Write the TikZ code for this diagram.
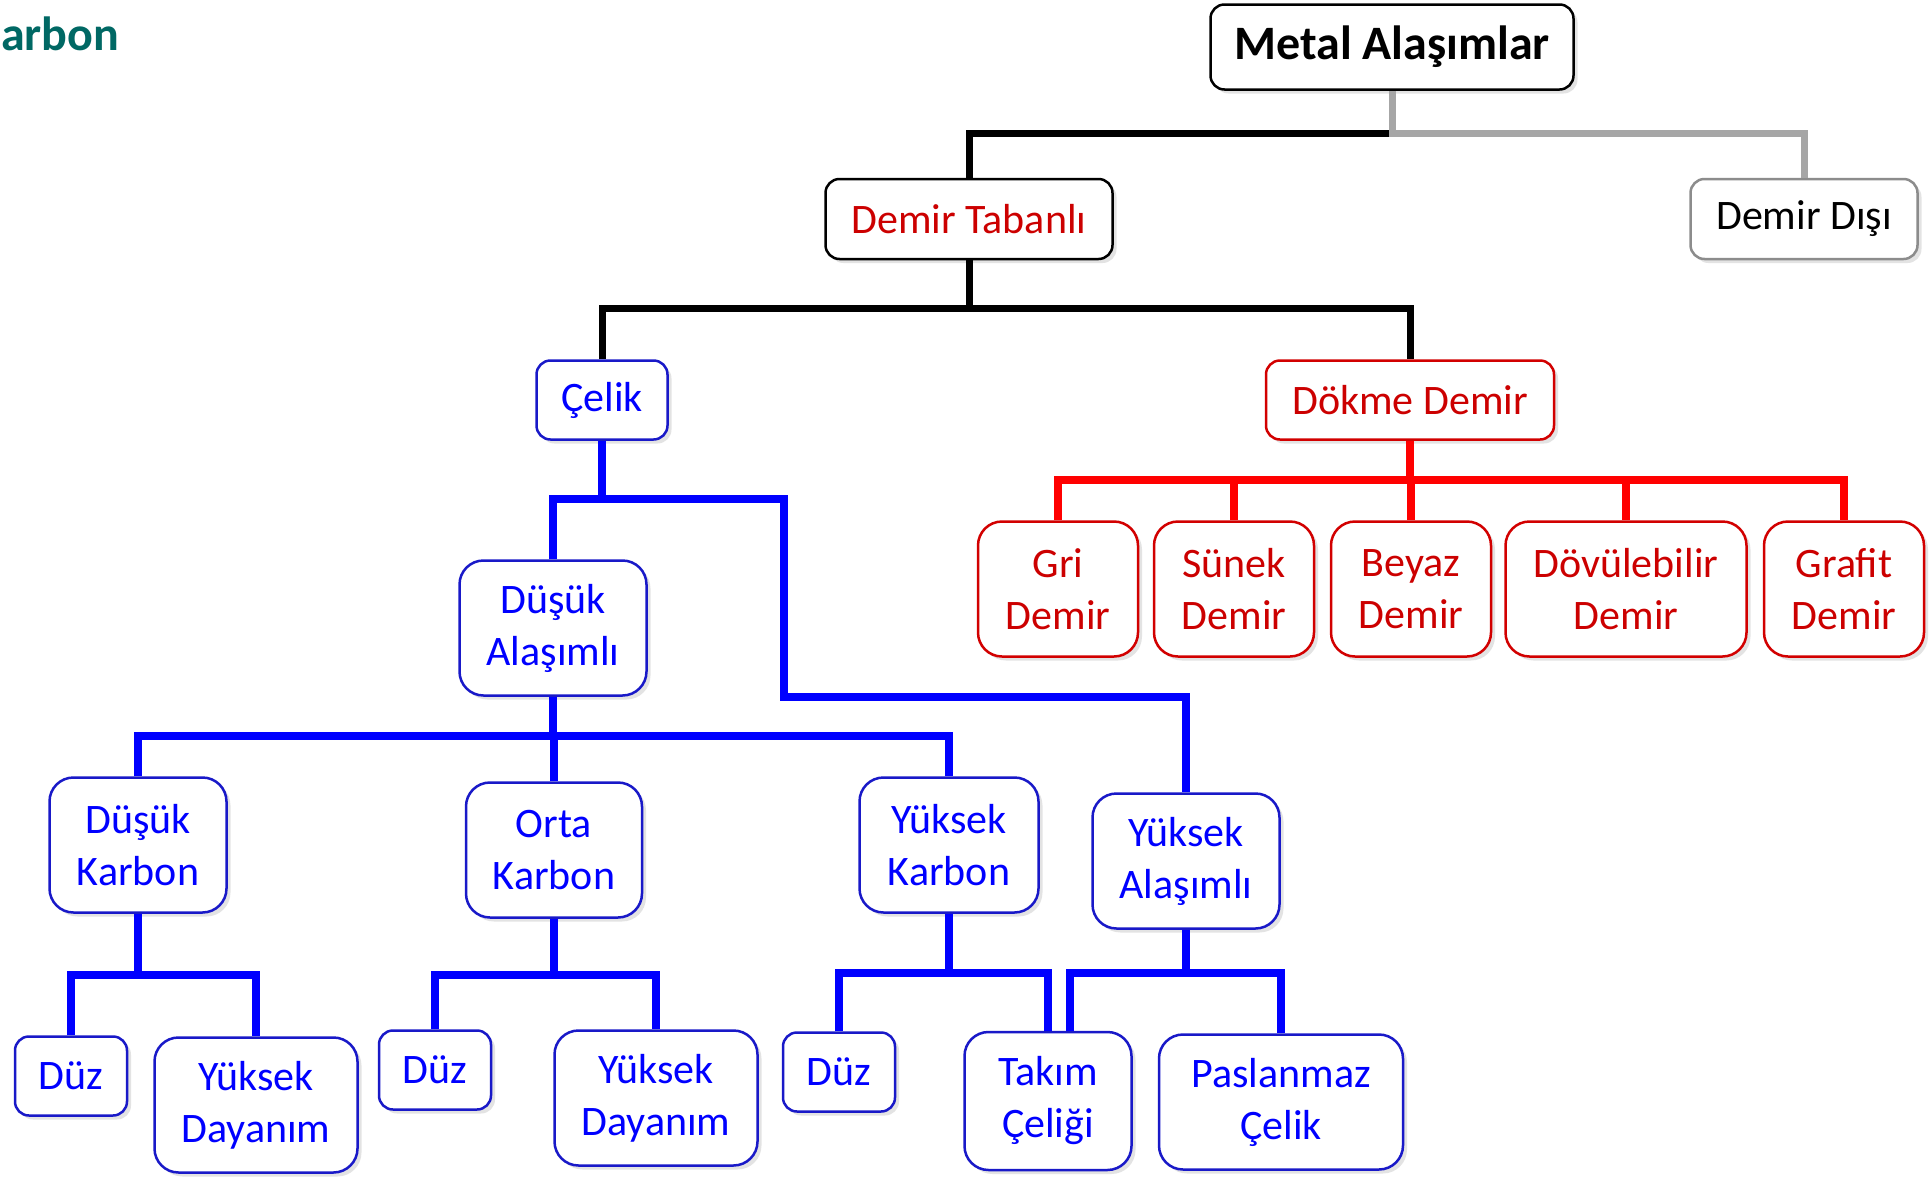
\documentclass[tikz,border=0pt]{standalone}
\usepackage{fontspec}
\setmainfont{Carlito}
\usetikzlibrary{shadows}
\definecolor{tealc}{RGB}{0,104,100}
\definecolor{boxblue}{RGB}{25,25,200}
\definecolor{txtred}{RGB}{204,0,0}
\definecolor{boxred}{RGB}{210,0,0}
\definecolor{grayline}{RGB}{166,166,166}
\definecolor{grayborder}{RGB}{140,140,140}
\tikzset{
  box/.style={draw, line width=2.5pt, fill=white, rounded corners=14pt, align=center,
    inner sep=0pt, font=\fontsize{42}{52}\selectfont,
    drop shadow={opacity=0.22, shadow xshift=4pt, shadow yshift=-4pt}},
  wh/.style 2 args={minimum width=#1pt, minimum height=#2pt},
  bkbox/.style={box, draw=black, text=black},
  gybox/.style={box, draw=grayborder, text=black},
  blbox/.style={box, draw=boxblue, text=blue},
  tallbl/.style={blbox, rounded corners=24pt},
  rdbox/.style={box, draw=boxred, text=txtred},
  tallrd/.style={rdbox, rounded corners=24pt},
  bk/.style={line width=7pt, draw=black},
  gl/.style={line width=7pt, draw=grayline},
  bl/.style={line width=8.5pt, draw=blue},
  rl/.style={line width=8.5pt, draw=red},
}
\begin{document}
\begin{tikzpicture}[x=1pt,y=-1pt]
\useasboundingbox (0,0) rectangle (1931,1176);
\fill[white] (0,0) rectangle (1931,1176);

% title fragment
\node[anchor=base west, inner sep=0pt, text=tealc, font=\fontsize{48}{52}\selectfont\bfseries] (frag) at (1,50) {arbon};

% nodes
\node[bkbox, wh={363}{85}, font=\fontsize{48}{52}\selectfont\bfseries] (metal) at (1392,47) {Metal Alaşımlar};
\node[gybox, wh={227}{80}] (disi) at (1804,219) {Demir Dışı};
\node[bkbox, wh={287}{80}, text=txtred] (tabanli) at (969,219) {Demir Tabanlı};
\node[blbox, wh={131}{79}] (celik) at (602,400) {Çelik};
\node[rdbox, wh={288}{79}] (dokme) at (1410,400) {Dökme Demir};

\node[tallrd, wh={160}{135}] (gri) at (1058,589) {Gri\\Demir};
\node[tallrd, wh={160}{135}] (sunek) at (1234,589) {Sünek\\Demir};
\node[tallrd, wh={160}{135}] (beyaz) at (1411,589) {Beyaz\\Demir};
\node[tallrd, wh={241}{135}] (dovul) at (1626,589) {Dövülebilir\\Demir};
\node[tallrd, wh={160}{135}] (grafit) at (1844,589) {Grafit\\Demir};

\node[tallbl, wh={187}{135}] (dusukal) at (553,628) {Düşük\\Alaşımlı};
\node[tallbl, wh={177}{135}] (dk) at (138,845) {Düşük\\Karbon};
\node[tallbl, wh={176}{135}] (ok) at (554,850) {Orta\\Karbon};
\node[tallbl, wh={179}{135}] (yk) at (949,845) {Yüksek\\Karbon};
\node[tallbl, wh={187}{135}] (ya) at (1186,861) {Yüksek\\Alaşımlı};

\node[blbox, wh={112}{79}] (duz1) at (71,1076) {Düz};
\node[tallbl, wh={203}{135}] (yd1) at (256,1105) {Yüksek\\Dayanım};
\node[blbox, wh={112}{79}] (duz2) at (435,1070) {Düz};
\node[tallbl, wh={203}{135}] (yd2) at (656,1098) {Yüksek\\Dayanım};
\node[blbox, wh={112}{79}] (duz3) at (839,1072) {Düz};
\node[tallbl, wh={167}{138}] (takim) at (1048,1101) {Takım\\Çeliği};
\node[tallbl, wh={244}{135}] (pas) at (1281,1102) {Paslanmaz\\Çelik};

% junction coordinates
\coordinate (jm) at (1392,133);
\coordinate (jt) at (969,308);
\coordinate (jd) at (1410,480);
\coordinate (jc) at (602,499);
\coordinate (cr) at (784,697);
\coordinate (jda) at (553,736);
\coordinate (j1) at (138,975);
\coordinate (j2) at (554,975);
\coordinate (j3) at (949,973);
\coordinate (j4) at (1186,973);

% top connectors
\draw[bk] (jm) -| (tabanli.north);
\draw[gl] (metal.south) -- (jm) -| (disi.north);
\draw[bk] (tabanli.south) -- (jt);
\draw[bk] (celik.north) |- (jt) -| (dokme.north);

% red connectors
\draw[rl] (dokme.south) -- (jd);
\draw[rl] (gri.north) |- (jd) -| (grafit.north);
\draw[rl] (sunek.north) -- (sunek.north |- jd);
\draw[rl] (beyaz.north) -- (beyaz.north |- jd);
\draw[rl] (dovul.north) -- (dovul.north |- jd);

% blue connectors
\draw[bl] (celik.south) -- (jc);
\draw[bl] (dusukal.north) |- (jc) -| (cr) -| (ya.north);
\draw[bl] (dusukal.south) -- (jda);
\draw[bl] (dk.north) |- (jda) -| (yk.north);
\draw[bl] (ok.north) -- (ok.north |- jda);
\draw[bl] (dk.south) -- (j1);
\draw[bl] (duz1.north) |- (j1) -| (yd1.north);
\draw[bl] (ok.south) -- (j2);
\draw[bl] (duz2.north) |- (j2) -| (yd2.north);
\draw[bl] (yk.south) -- (j3);
\draw[bl] (duz3.north) |- (j3) -| (takim.north);
\draw[bl] (ya.south) -- (j4);
\draw[bl] ([xshift=22pt]takim.north) |- (j4) -| (pas.north);
\end{tikzpicture}
\end{document}
